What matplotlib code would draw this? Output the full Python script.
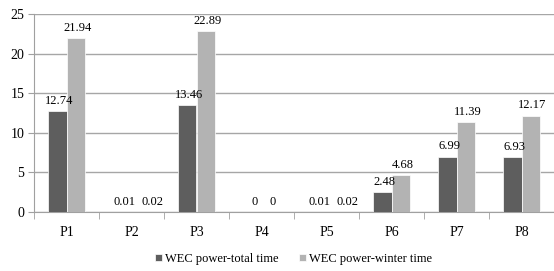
import matplotlib
matplotlib.use("Agg")
import matplotlib.pyplot as plt
import numpy as np

categories = ["P1", "P2", "P3", "P4", "P5", "P6", "P7", "P8"]
total_time = [12.74, 0.01, 13.46, 0, 0.01, 2.48, 6.99, 6.93]
winter_time = [21.94, 0.02, 22.89, 0, 0.02, 4.68, 11.39, 12.17]
series_names = ["WEC power-total time", "WEC power-winter time"]
yticks = [0, 5, 10, 15, 20, 25]

plt.rcParams['font.family'] = ['Liberation Serif', 'DejaVu Serif']

fig = plt.figure(figsize=(5.54, 2.71), dpi=100)
ax = fig.add_axes([34/554, 1-212/271, 1-34/554, (212-14)/271])

x = np.arange(len(categories))
w = 0.29
c1, c2 = "#5e5e5e", "#b3b3b3"
b1 = ax.bar(x - w/2, total_time, w, color=c1, label=series_names[0], zorder=3, edgecolor="white", linewidth=0.5)
b2 = ax.bar(x + w/2, winter_time, w, color=c2, label=series_names[1], zorder=3, edgecolor="white", linewidth=0.5)

def fmt(v):
    return "0" if v == 0 else f"{v:g}"

for bars, vals, dx in ((b1, total_time, 1.5), (b2, winter_time, 1.0)):
    for r, v in zip(bars, vals):
        off = dx
        if bars is b2 and 0 < v < 1:
            off = 8
        ax.annotate(fmt(v), (r.get_x() + r.get_width()/2, v), xytext=(off, 3),
                    textcoords="offset points", ha="center", va="bottom", fontsize=9)

ax.set_xlim(-0.5, len(categories) - 0.5)
ax.set_ylim(0, 25)
ax.set_yticks(yticks)
ax.set_xticks(x)
ax.set_xticklabels(categories, fontsize=10)
ax.tick_params(axis='y', labelsize=10, length=4, color="#a0a0a0", pad=3)
ax.tick_params(axis='x', length=0, pad=10)
ax.set_xticks(np.arange(-0.5, len(categories), 1), minor=True)
ax.tick_params(axis='x', which='minor', length=5, color="#a0a0a0")
ax.yaxis.grid(True, color="#a6a6a6", linewidth=1.0, zorder=0)
for s in ("top", "right"):
    ax.spines[s].set_visible(False)
ax.spines["left"].set_color("#a0a0a0")
ax.spines["bottom"].set_color("#a0a0a0")

fig.legend(handles=[b1, b2], labels=series_names, loc="center", bbox_to_anchor=(0.53, 1-259/271),
           ncol=2, frameon=False, fontsize=9, handlelength=0.55, handleheight=0.55,
           handletextpad=0.3, columnspacing=1.6)

fig.savefig("out.png", dpi=100)
